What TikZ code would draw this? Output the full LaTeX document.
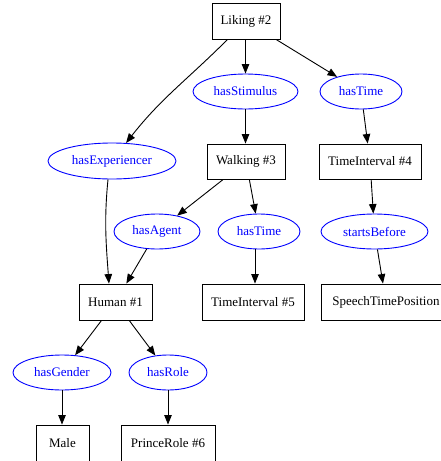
\documentclass[tikz,border=0pt]{standalone}
\usepackage{fontspec}
\setmainfont{Liberation Serif}
\usetikzlibrary{arrows.meta,shapes.geometric}
\tikzset{
  box/.style={draw=black, line width=0.9pt, rectangle, inner sep=0pt, minimum height=36pt, font=\fontsize{13}{15}\selectfont, text=black},
  rel/.style={draw=blue, line width=0.9pt, ellipse, inner sep=0pt, minimum height=35pt, font=\fontsize{13}{15}\selectfont, text=blue},
  edge/.style={draw=black, line width=0.9pt, -{Triangle[length=9.5pt,width=7.5pt]}}
}
\begin{document}
\begin{tikzpicture}[x=1pt,y=1pt]
\useasboundingbox (0,0) rectangle (441,-461);
\clip (0,0) rectangle (441,-461);
% boxes
\node[box, minimum width=68pt] (lik) at (246,-21) {Liking \#2};
\node[box, minimum width=78pt, minimum height=35pt] (walk) at (246,-161.5) {Walking \#3};
\node[box, minimum width=102pt, minimum height=35pt] (ti4) at (370,-161.5) {TimeInterval \#4};
\node[box, minimum width=73pt] (hum) at (115.5,-302) {Human \#1};
\node[box, minimum width=102pt] (ti5) at (253,-302) {TimeInterval \#5};
\node[box, minimum width=130pt] (spt) at (386,-302) {SpeechTimePosition};
\node[box, minimum width=53pt] (male) at (62.5,-443) {Male};
\node[box, minimum width=94pt] (prr) at (168,-443) {PrinceRole \#6};
% relations
\node[rel, minimum width=105pt] (stim) at (245.5,-91.5) {hasStimulus};
\node[rel, minimum width=82pt] (time1) at (361,-91.5) {hasTime};
\node[rel, minimum width=128pt, minimum height=36pt] (exp) at (112,-161) {hasExperiencer};
\node[rel, minimum width=86pt] (agent) at (157,-231.5) {hasAgent};
\node[rel, minimum width=82pt] (time2) at (259,-231.5) {hasTime};
\node[rel, minimum width=107pt] (sb) at (374.5,-231.5) {startsBefore};
\node[rel, minimum width=98pt] (gen) at (62,-372.5) {hasGender};
\node[rel, minimum width=78pt] (role) at (168,-372.5) {hasRole};
% edges
\draw[edge] (lik) to[out=-135,in=52] (exp);
\draw[edge] (lik.south -| stim) -- (stim);
\draw[edge] (lik) -- (time1);
\draw[edge] (stim) -- (stim |- walk.north);
\draw[edge] (time1) -- (ti4);
\draw[edge] ([xshift=-4pt]exp.south) .. controls +(-4,-40) and +(-3,40) .. ([xshift=-6.5pt]hum.north);
\draw[edge] (walk) -- (agent);
\draw[edge] (walk) -- (time2);
\draw[edge] (ti4) -- (sb);
\draw[edge] (agent) -- (hum);
\draw[edge] ([xshift=-4pt]time2.south) -- ([xshift=2pt]ti5.north);
\draw[edge] (sb) -- (spt);
\draw[edge] (hum) -- (gen);
\draw[edge] (hum) -- (role);
\draw[edge] (gen) -- (gen |- male.north);
\draw[edge] (role) -- (role |- prr.north);
\end{tikzpicture}
\end{document}
